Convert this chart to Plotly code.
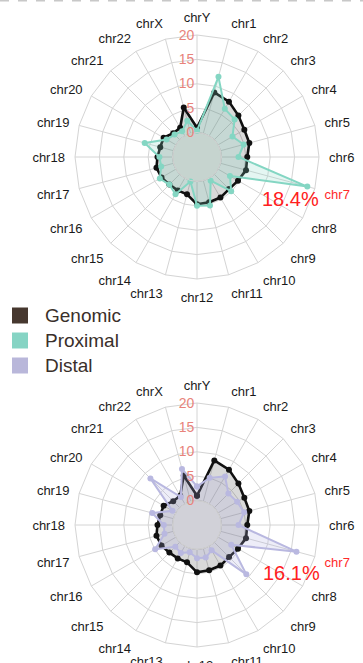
import plotly.graph_objects as go

chromosomes = ["chrY", "chr1", "chr2", "chr3", "chr4", "chr5", "chr6", "chr7", "chr8",
               "chr9", "chr10", "chr11", "chr12", "chr13", "chr14", "chr15", "chr16",
               "chr17", "chr18", "chr19", "chr20", "chr21", "chr22", "chrX"]

genomic = [1.0, 8.7, 8.1, 7.0, 6.2, 6.1, 5.3, 5.4, 4.7, 4.3, 4.6, 4.6, 4.7,
           2.9, 2.9, 3.0, 3.4, 3.6, 3.1, 2.8, 2.9, 1.9, 1.9, 5.5]
proximal = [0.4, 12.0, 6.4, 5.9, 3.4, 4.9, 3.5, 18.4, 2.8, 4.9, 0.6, 5.3, 5.0,
            0.2, 3.8, 3.0, 3.8, 2.6, 2.7, 6.1, 2.2, 1.5, 1.1, 2.7]
distal = [2.9, 5.0, 6.5, 4.1, 4.5, 5.0, 3.5, 16.1, 3.1, 9.3, 1.0, 1.9, 1.8,
          0.8, 1.6, 1.3, 4.9, 1.9, 1.8, 4.5, 0.8, 8.5, 1.6, 6.9]

radial_ticks = [0, 5, 10, 15, 20]
legend_names = ["Genomic", "Proximal", "Distal"]
legend_colors = ["#46382f", "#86d4c4", "#b9b7da"]
highlight = "chr7"

W, H = 363, 663
FONT = "Liberation Sans, Arial, sans-serif"
HOLE = 0.2


def closed(vals):
    return list(vals) + [vals[0]]


fig = go.Figure()

styles = {
    "Genomic": dict(line="#111111", fill="rgba(0,0,0,0.15)", width=2.6),
    "Proximal": dict(line="#84d6c3", fill="rgba(132,214,195,0.22)", width=2),
    "Distal": dict(line="#b9b8e0", fill="rgba(175,175,225,0.22)", width=2),
}

panels = [("polar", [genomic, proximal], ["Genomic", "Proximal"], 157, "#c6d4cf"),
          ("polar2", [genomic, distal], ["Genomic", "Distal"], 525, "#d1d1d8")]

for sub, series, names, cy, holecol in panels:
    for vals, name in zip(series, names):
        st = styles[name]
        fig.add_trace(go.Scatterpolar(
            r=closed(vals), theta=closed(chromosomes), subplot=sub,
            mode="lines+markers", fill="toself", fillcolor=st["fill"],
            line=dict(color=st["line"], width=st["width"]),
            marker=dict(color=st["line"], size=6),
            name=name, showlegend=False))

ticktext = [f"<span style='color:#ff2a2a'>{c}</span>" if c == highlight else c
            for c in chromosomes]

polar_common = dict(
    hole=HOLE,
    gridshape="linear",
    bgcolor="rgba(0,0,0,0)",
    radialaxis=dict(range=[0, 20], tickvals=radial_ticks, angle=90, tickangle=90,
                    side="counterclockwise", showline=False, ticks="",
                    gridcolor="#d4d4d4", gridwidth=1,
                    tickfont=dict(color="#e8837b", size=14, family=FONT)),
    angularaxis=dict(direction="clockwise", rotation=90, type="category",
                     categoryarray=chromosomes, tickvals=chromosomes,
                     ticktext=ticktext, ticks="outside", ticklen=7,
                     tickcolor="rgba(0,0,0,0)", showline=True,
                     linecolor="#d4d4d4", gridcolor="#d4d4d4", gridwidth=1,
                     tickfont=dict(color="#1a1a1a", size=13, family=FONT)),
)

R = 122
CX = 197
fig.update_layout(
    polar=dict(domain=dict(x=[(CX - R) / W, (CX + R) / W],
                           y=[1 - (157 + R) / H, 1 - (157 - R) / H]), **polar_common),
    polar2=dict(domain=dict(x=[(CX - R) / W, (CX + R) / W],
                            y=[1 - (525 + R) / H, 1 - (525 - R) / H]), **polar_common),
)

shapes = []
for sub, series, names, cy, holecol in panels:
    hr = HOLE * R
    shapes.append(dict(type="circle", xref="paper", yref="paper", layer="below",
                       x0=(CX - hr) / W, x1=(CX + hr) / W,
                       y0=1 - (cy + hr) / H, y1=1 - (cy - hr) / H,
                       fillcolor=holecol, line=dict(color="#b8b8b8", width=1)))

idx7 = chromosomes.index(highlight)
annotations = [
    dict(text=f"{proximal[idx7]:.1f}%", x=290 / W, y=1 - 199 / H),
    dict(text=f"{distal[idx7]:.1f}%", x=291 / W, y=1 - 573 / H),
]
annotations = [dict(a, xref="paper", yref="paper", showarrow=False,
                    xanchor="center", yanchor="middle",
                    font=dict(color="#ff2020", size=20, family=FONT))
               for a in annotations]

for i, (name, col) in enumerate(zip(legend_names, legend_colors)):
    yc = 315.5 + 25 * i
    shapes.append(dict(type="rect", xref="paper", yref="paper",
                       x0=12 / W, x1=28 / W, y0=1 - (yc + 8) / H, y1=1 - (yc - 8) / H,
                       fillcolor=col, line=dict(width=0)))
    annotations.append(dict(text=name, xref="paper", yref="paper", x=43 / W, y=1 - yc / H,
                            xanchor="left", yanchor="middle", showarrow=False,
                            font=dict(color="#3a2f2a", size=19, family=FONT)))

shapes.append(dict(type="line", xref="paper", yref="paper", x0=0.0, x1=1.0,
                   y0=1 - 0.8 / H, y1=1 - 0.8 / H,
                   line=dict(color="#c8c8c8", width=1.5, dash="dash")))

fig.update_layout(
    width=W, height=H, margin=dict(l=0, r=0, t=0, b=0),
    paper_bgcolor="white", plot_bgcolor="white",
    annotations=annotations, shapes=shapes, showlegend=False,
)

fig.write_html("out.html")
